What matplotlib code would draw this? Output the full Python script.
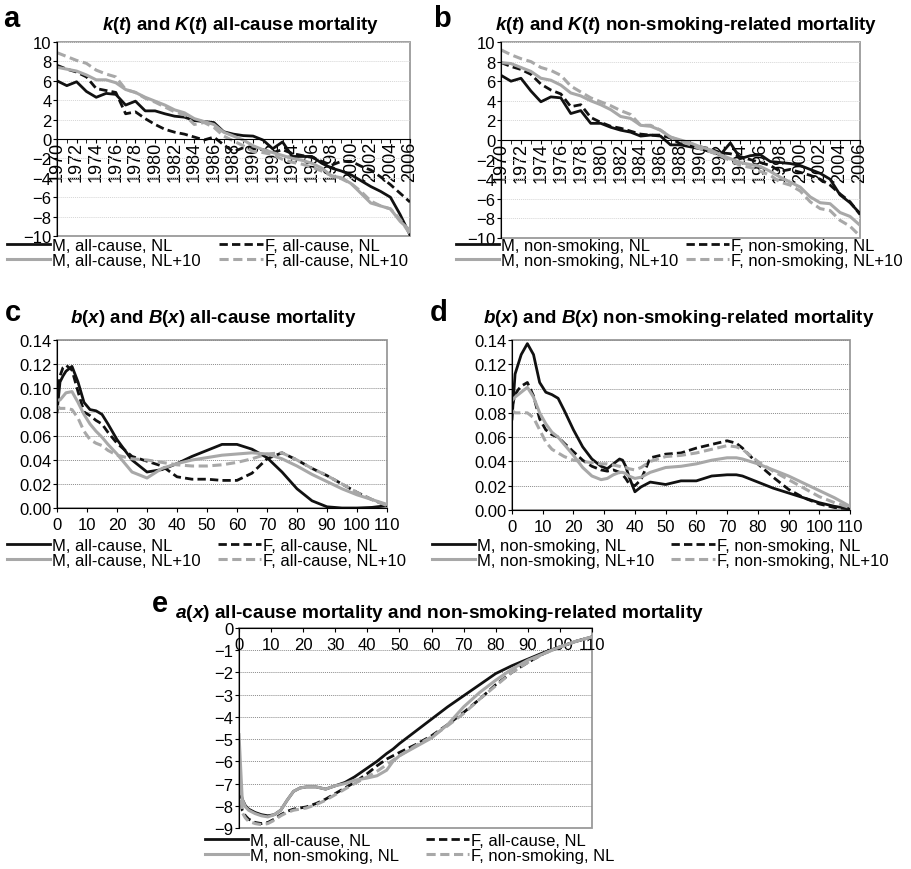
import matplotlib
matplotlib.use('Agg')
import matplotlib.pyplot as plt
from matplotlib.patches import Rectangle

plt.rcParams['font.family'] = 'Liberation Sans'
plt.rcParams['mathtext.fontset'] = 'custom'
plt.rcParams['mathtext.rm'] = 'Liberation Sans'
plt.rcParams['mathtext.it'] = 'Liberation Sans:italic'
plt.rcParams['mathtext.bf'] = 'Liberation Sans:bold'
plt.rcParams['mathtext.bfit'] = 'Liberation Sans:italic:bold'

# ---- data: k(t), K(t) ----
years = list(range(1970, 2007))
a_m_nl = [6.0, 5.5, 5.9, 4.9, 4.3, 4.7, 4.6, 3.5, 3.9, 2.9,
          2.9, 2.6, 2.35, 2.25, 1.9, 1.8, 1.7, 0.75, 0.5, 0.35,
          0.3, -0.1, -1.0, -0.3, -1.8, -1.8, -1.8, -2.5, -3.0, -3.3,
          -3.7, -4.3, -4.9, -5.4, -6.0, -7.8, -9.9]
a_f_nl = [7.6, 7.2, 6.9, 6.4, 5.2, 5.0, 4.8, 2.6, 2.8, 2.1,
          1.5, 1.0, 0.7, 0.5, 0.2, -0.1, 0.2, -0.6, -1.3, -0.9,
          -1.0, -1.1, -1.4, -1.1, -1.5, -1.7, -1.9, -2.3, -2.7, -2.3,
          -2.3, -2.8, -3.2, -3.9, -4.7, -5.6, -6.5]
a_m_nl10 = [7.4, 7.2, 7.0, 6.6, 6.1, 6.1, 5.8, 5.1, 4.8, 4.3,
            3.9, 3.5, 3.0, 2.7, 2.1, 1.8, 1.5, 0.7, 0.3, -0.1,
            -0.7, -1.1, -1.4, -1.7, -2.0, -2.2, -2.5, -3.0, -3.8, -4.0,
            -4.6, -5.6, -6.6, -6.9, -7.2, -8.5, -9.4]
a_f_nl10 = [8.9, 8.5, 8.1, 7.8, 7.1, 6.7, 6.4, 5.1, 4.8, 4.2,
            3.8, 3.3, 2.8, 2.5, 1.5, 1.7, 1.2, 0.3, -0.2, -0.7,
            -1.3, -1.4, -1.6, -2.1, -2.4, -2.6, -2.9, -3.3, -3.8, -4.1,
            -4.6, -5.4, -6.4, -6.9, -7.2, -8.3, -9.8]

b_m_nl = [6.6, 6.0, 6.3, 5.0, 3.9, 4.4, 4.3, 2.7, 3.0, 1.7,
          1.7, 1.3, 1.0, 0.8, 0.4, 0.5, 0.4, -0.5, -0.5, -0.7,
          -0.9, -1.2, -1.5, -0.3, -1.9, -1.6, -1.5, -2.2, -2.3, -2.4,
          -2.6, -3.0, -3.4, -4.0, -5.6, -6.4, -7.5]
b_f_nl = [7.9, 7.5, 7.2, 6.7, 5.7, 5.1, 4.7, 3.4, 3.6, 2.3,
          1.8, 1.4, 1.2, 0.9, 0.6, 0.5, 0.5, 0.2, -0.4, -0.6,
          -0.7, -0.9, -1.3, -1.4, -1.7, -2.0, -2.3, -2.6, -3.2, -3.0,
          -3.3, -3.6, -4.0, -4.6, -5.5, -6.3, -7.6]
b_m_nl10 = [7.9, 7.8, 7.4, 7.0, 6.3, 6.1, 5.6, 4.8, 4.5, 4.0,
            3.6, 3.1, 2.4, 2.2, 1.5, 1.4, 1.0, 0.3, 0.0, -0.3,
            -0.7, -1.0, -1.5, -1.9, -2.3, -2.5, -2.7, -3.2, -3.8, -4.3,
            -4.8, -5.8, -6.4, -6.5, -7.4, -7.8, -8.7]
b_f_nl10 = [9.2, 8.7, 8.3, 8.0, 7.4, 7.1, 6.6, 5.5, 4.9, 4.3,
            3.9, 3.5, 3.0, 2.6, 1.5, 1.5, 1.0, 0.3, -0.1, -0.5,
            -0.9, -1.2, -1.6, -2.1, -2.6, -2.8, -3.2, -3.6, -4.3, -4.6,
            -5.2, -6.3, -7.0, -7.2, -8.2, -8.8, -9.8]

# ---- data: b(x), B(x) ----
ages_c = [0, 1, 2, 3, 5, 7, 9, 11, 13, 15, 17, 20, 25, 30, 35, 40, 45, 50,
          55, 60, 65, 70, 75, 80, 85, 90, 95, 100, 105, 110]
c_m_nl = [0.08, 0.105, 0.11, 0.114, 0.118, 0.105, 0.088, 0.082, 0.081, 0.078,
          0.07, 0.057, 0.04, 0.03, 0.032, 0.037, 0.043, 0.048, 0.053, 0.053,
          0.049, 0.042, 0.03, 0.016, 0.006, 0.001, 0.0, 0.0, 0.0005, 0.002]
c_f_nl = [0.09, 0.11, 0.117, 0.119, 0.115, 0.097, 0.08, 0.077, 0.073, 0.07,
          0.063, 0.054, 0.043, 0.039, 0.035, 0.026, 0.024, 0.024, 0.023, 0.023,
          0.029, 0.041, 0.046, 0.04, 0.033, 0.027, 0.02, 0.013, 0.007, 0.002]
c_m_nl10 = [0.09, 0.09, 0.093, 0.096, 0.097, 0.088, 0.078, 0.07, 0.064, 0.059,
            0.053, 0.045, 0.03, 0.025, 0.033, 0.037, 0.04, 0.042, 0.044, 0.045,
            0.046, 0.045, 0.041, 0.035, 0.028, 0.022, 0.016, 0.011, 0.007, 0.003]
c_f_nl10 = [0.085, 0.083, 0.083, 0.083, 0.082, 0.075, 0.064, 0.057, 0.054, 0.052,
            0.048, 0.044, 0.041, 0.04, 0.038, 0.036, 0.035, 0.035, 0.036, 0.038,
            0.041, 0.045, 0.046, 0.04, 0.033, 0.027, 0.02, 0.013, 0.007, 0.002]

ages_d = [0, 1, 2, 3, 5, 7, 9, 11, 13, 15, 17, 20, 23, 26, 29, 31, 33, 35, 36,
          37, 38, 40, 42, 45, 50, 55, 60, 65, 70, 73, 75, 80, 85, 90, 95, 100,
          105, 110]
d_m_nl = [0.075, 0.112, 0.12, 0.128, 0.137, 0.128, 0.105, 0.097, 0.095, 0.092,
          0.082, 0.066, 0.052, 0.042, 0.036, 0.034, 0.038, 0.042, 0.041,
          0.036, 0.028, 0.015, 0.019, 0.023, 0.021, 0.024, 0.024, 0.028, 0.029,
          0.029, 0.028, 0.023, 0.018, 0.014, 0.01, 0.006, 0.003, 0.001]
d_f_nl = [0.085, 0.095, 0.099, 0.102, 0.105, 0.094, 0.075, 0.066, 0.062, 0.06,
          0.055, 0.048, 0.041, 0.036, 0.033, 0.032, 0.033, 0.031, 0.029,
          0.026, 0.022, 0.02, 0.025, 0.043, 0.046, 0.047, 0.051, 0.054, 0.057,
          0.055, 0.051, 0.038, 0.027, 0.017, 0.01, 0.005, 0.002, 0.001]
d_m_nl10 = [0.09, 0.093, 0.095, 0.097, 0.101, 0.093, 0.08, 0.071, 0.064, 0.06,
            0.054, 0.045, 0.035, 0.028, 0.025, 0.026, 0.029, 0.031, 0.031,
            0.03, 0.028, 0.026, 0.027, 0.031, 0.035, 0.036, 0.038, 0.041, 0.043,
            0.043, 0.042, 0.038, 0.033, 0.028, 0.022, 0.016, 0.01, 0.003]
d_f_nl10 = [0.082, 0.08, 0.08, 0.08, 0.08, 0.076, 0.066, 0.056, 0.05, 0.047,
            0.044, 0.041, 0.04, 0.039, 0.038, 0.038, 0.037, 0.036, 0.035,
            0.035, 0.034, 0.033, 0.035, 0.04, 0.044, 0.045, 0.047, 0.05, 0.053,
            0.052, 0.05, 0.04, 0.032, 0.025, 0.018, 0.011, 0.006, 0.002]

# ---- data: a(x) ----
ages_e = [0, 1, 2, 3, 5, 7, 9, 11, 13, 15, 17, 19, 21, 24, 27, 30, 33, 36, 40,
          43, 46, 48, 50, 55, 60, 65, 70, 75, 80, 85, 90, 95, 100, 105, 110]
e_m_all = [-7.0, -7.7, -8.0, -8.15, -8.3, -8.4, -8.45, -8.4, -8.2, -7.75,
           -7.35, -7.2, -7.15, -7.15, -7.25, -7.1, -6.95, -6.7, -6.3,
           -6.0, -5.65, -5.45, -5.2, -4.65, -4.1, -3.55, -3.05, -2.55, -2.05,
           -1.7, -1.4, -1.1, -0.85, -0.6, -0.4]
e_f_all = [-7.3, -8.2, -8.45, -8.6, -8.75, -8.8, -8.75, -8.6, -8.4, -8.25,
           -8.15, -8.1, -8.05, -7.9, -7.7, -7.45, -7.2, -6.95, -6.55,
           -6.2, -5.9, -5.75, -5.6, -5.25, -4.85, -4.35, -3.8, -3.2, -2.55,
           -2.0, -1.55, -1.15, -0.85, -0.6, -0.4]
e_m_ns = [-4.8, -7.7, -8.05, -8.2, -8.35, -8.45, -8.5, -8.4, -8.2, -7.75,
          -7.35, -7.2, -7.15, -7.15, -7.25, -7.1, -7.0, -6.85, -6.75,
          -6.65, -6.4, -6.0, -5.75, -5.35, -4.95, -4.35, -3.55, -2.9, -2.35,
          -1.85, -1.45, -1.15, -0.85, -0.6, -0.4]
e_f_ns = [-6.5, -8.3, -8.55, -8.7, -8.8, -8.85, -8.8, -8.65, -8.45, -8.3,
          -8.2, -8.15, -8.1, -7.95, -7.75, -7.5, -7.25, -7.0, -6.7,
          -6.45, -6.15, -5.95, -5.75, -5.3, -4.9, -4.4, -3.85, -3.2, -2.6,
          -2.0, -1.55, -1.15, -0.85, -0.6, -0.4]

W, H = 912, 870
BLACK = '#111111'
GREY = '#a8a8a8'
BOX = '#9a9a9a'
FS = 12
LFS = 12


def rect(l, t, r, b):
    return [l / W, 1 - b / H, (r - l) / W, (b - t) / H]


def frame(ax, grid_col):
    for s in ['top', 'right', 'bottom']:
        ax.spines[s].set_visible(False)
    ax.spines['left'].set_color('black')
    ax.add_patch(Rectangle((0, 0), 1, 1, transform=ax.transAxes, fill=False,
                           edgecolor=BOX, lw=1.3, clip_on=False, zorder=0.5))
    ax.yaxis.grid(True, color=grid_col, ls=(0, (1, 1)), lw=0.7)
    ax.set_axisbelow(True)
    ax.tick_params(axis='y', labelsize=FS, length=3, pad=1, direction='out')
    ax.tick_params(axis='x', labelsize=FS, direction='out', length=3)


def draw4(ax, x, m1, f1, m2, f2, labels):
    h1, = ax.plot(x, m1, color=BLACK, lw=2.0, label=labels[0])
    h2, = ax.plot(x, f1, color=BLACK, lw=2.0, ls=(0, (3, 1.5)), label=labels[1])
    h3, = ax.plot(x, m2, color=GREY, lw=2.2, label=labels[2])
    h4, = ax.plot(x, f2, color=GREY, lw=2.2, ls=(0, (3, 1.5)), label=labels[3])
    return [h1, h3, h2, h4]


def legend(handles, x, y, colsp=1.0):
    fig.legend(handles=handles, loc='upper left', ncol=2,
               bbox_to_anchor=(x / W, 1 - y / H), frameon=False,
               fontsize=LFS, handlelength=2.6, handletextpad=0.12,
               labelspacing=0.0, columnspacing=colsp, borderpad=0,
               borderaxespad=0)


def ftext(x, y, s, **kw):
    fig.text(x / W, 1 - y / H, s, va='baseline', **kw)


fig = plt.figure(figsize=(W / 100, H / 100), dpi=100)

# panels a and b
kt_title = r'$\mathbfit{k}$($\mathbfit{t}$) and $\mathbfit{K}$($\mathbfit{t}$) '
for pos, series, labs, lx, csp, title, tx, letter, letx in [
        (rect(57, 43, 410, 237), (a_m_nl, a_f_nl, a_m_nl10, a_f_nl10),
         ['M, all-cause, NL', 'F, all-cause, NL',
          'M, all-cause, NL+10', 'F, all-cause, NL+10'], 7, 1.1,
         kt_title + 'all-cause mortality', 240, 'a', 3),
        (rect(501, 43, 860, 239), (b_m_nl, b_f_nl, b_m_nl10, b_f_nl10),
         ['M, non-smoking, NL', 'F, non-smoking, NL',
          'M, non-smoking, NL+10', 'F, non-smoking, NL+10'], 456, 0.45,
         kt_title + 'non-smoking-related mortality', 686, 'b', 433)]:
    ax = fig.add_axes(pos)
    hs = draw4(ax, years, *series, labs)
    frame(ax, '#d6d6d6')
    ax.spines['bottom'].set_visible(True)
    ax.spines['bottom'].set_position(('data', 0))
    ax.spines['bottom'].set_color('black')
    ax.set_xlim(1970, 2006)
    ax.set_ylim(-10, 10)
    ax.set_yticks(range(-10, 11, 2))
    ax.set_xticks(years[::2])
    ax.set_xticks(years[1::2], minor=True)
    ax.set_xticklabels([str(y) for y in years[::2]], rotation=90)
    ax.tick_params(axis='x', which='both', length=3, pad=-1.5, labelsize=13)
    legend(hs, lx, 239, csp)
    ftext(tx, 30, title, ha='center', fontsize=13.5, fontweight='bold')
    ftext(letx, 27, letter, fontsize=21, fontweight='bold')

# panels c and d
bx_title = r'$\mathbfit{b}$($\mathbfit{x}$) and $\mathbfit{B}$($\mathbfit{x}$) '
for pos, ages, series, labs, lx, title, tx, letter, letx in [
        (rect(57, 341, 387, 509), ages_c, (c_m_nl, c_f_nl, c_m_nl10, c_f_nl10),
         ['M, all-cause, NL', 'F, all-cause, NL',
          'M, all-cause, NL+10', 'F, all-cause, NL+10'], 7,
         bx_title + 'all-cause mortality', 213, 'c', 5),
        (rect(512, 341, 850, 511), ages_d, (d_m_nl, d_f_nl, d_m_nl10, d_f_nl10),
         ['M, non-smoking, NL', 'F, non-smoking, NL',
          'M, non-smoking, NL+10', 'F, non-smoking, NL+10'], 432,
         bx_title + 'non-smoking-related mortality', 679, 'd', 430)]:
    ax = fig.add_axes(pos)
    hs = draw4(ax, ages, *series, labs)
    frame(ax, '#8c8c8c')
    ax.spines['bottom'].set_visible(True)
    ax.spines['bottom'].set_color('black')
    ax.set_xlim(0, 110)
    ax.set_ylim(0, 0.14)
    ax.set_yticks([0, 0.02, 0.04, 0.06, 0.08, 0.10, 0.12, 0.14])
    ax.set_yticklabels(['%.2f' % v for v in ax.get_yticks()])
    ax.set_xticks(range(0, 111, 10))
    legend(hs, lx, 539)
    ftext(tx, 323, title, ha='center', fontsize=13.5, fontweight='bold')
    ftext(letx, 321, letter, fontsize=21, fontweight='bold')

# panel e
ax = fig.add_axes(rect(239, 629, 592, 829))
h1, = ax.plot(ages_e, e_m_all, color=BLACK, lw=2.0, label='M, all-cause, NL')
h2, = ax.plot(ages_e, e_f_all, color=BLACK, lw=2.0, ls=(0, (3, 1.5)),
              label='F, all-cause, NL')
h3, = ax.plot(ages_e, e_m_ns, color=GREY, lw=2.2, label='M, non-smoking, NL')
h4, = ax.plot(ages_e, e_f_ns, color=GREY, lw=2.2, ls=(0, (3, 1.5)),
              label='F, non-smoking, NL')
frame(ax, '#8c8c8c')
ax.spines['bottom'].set_visible(True)
ax.spines['bottom'].set_position(('data', 0))
ax.spines['bottom'].set_color('black')
ax.set_xlim(0, 110)
ax.set_ylim(-9, 0)
ax.set_yticks(range(-9, 1))
ax.set_xticks(range(0, 111, 10))
legend([h1, h3, h2, h4], 205, 834, colsp=1.6)
ftext(440, 618, r'$\mathbfit{a}$($\mathbfit{x}$) all-cause mortality and '
      'non-smoking-related mortality', ha='center', fontsize=13.75,
      fontweight='bold')
ftext(152, 612, 'e', fontsize=21, fontweight='bold')

fig.savefig('out.png', dpi=100)
